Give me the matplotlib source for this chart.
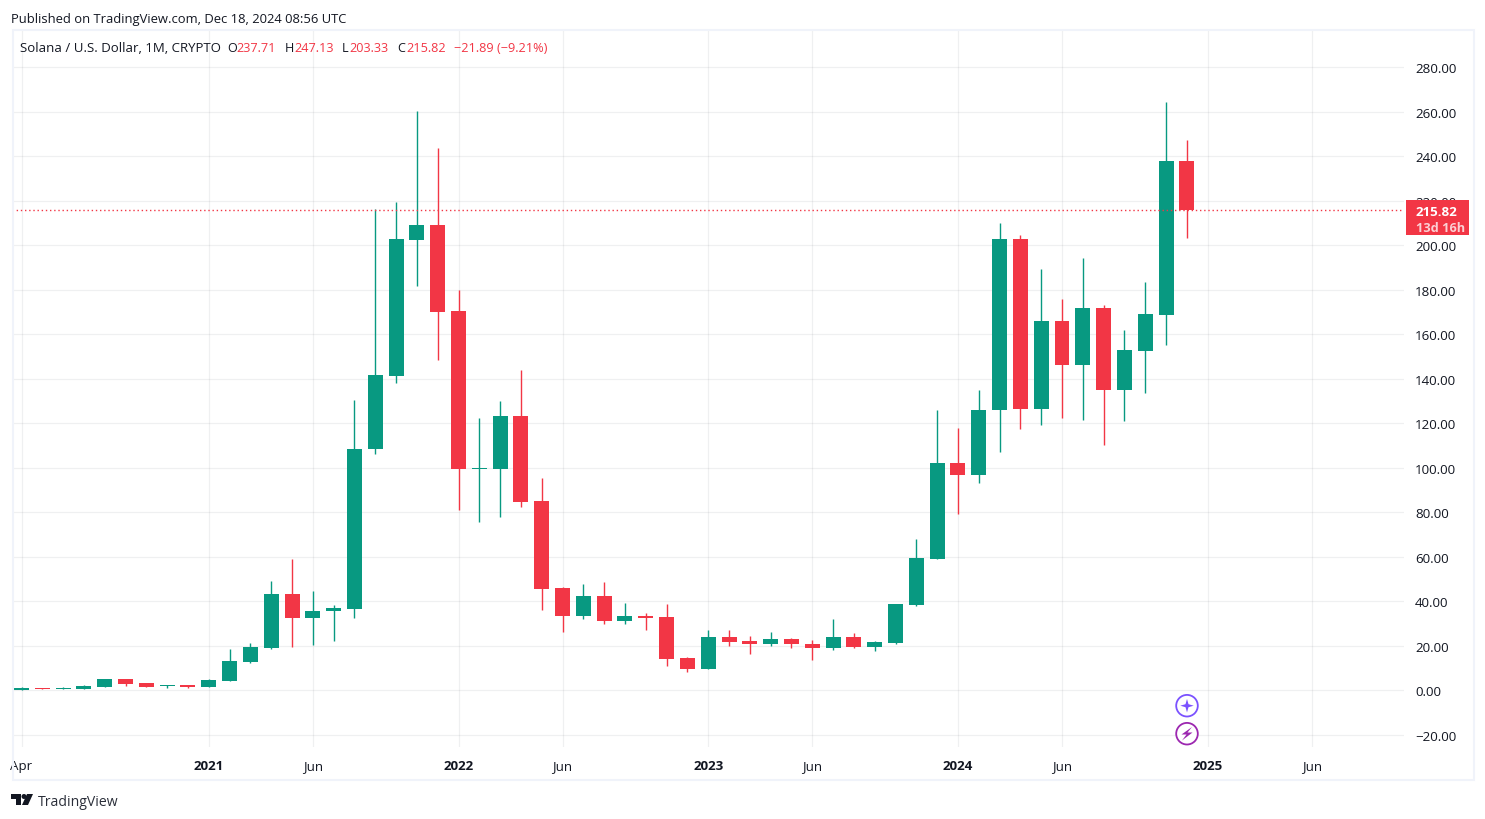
import matplotlib
matplotlib.use("Agg")
import matplotlib.pyplot as plt
from matplotlib.patches import Rectangle, Circle, Polygon
from matplotlib.transforms import Affine2D

plt.rcParams['font.family'] = ['Open Sans', 'DejaVu Sans']

opens = [0.2,0.9,0.6,0.5,1.4,5.0,3.1,1.8,2.2,1.4,4.0,12.6,19.2,43.3,32.5,35.4,36.5,108.2,141.4,202.5,209,170.2,99.5,99.4,123.2,85,
         45.8,33.3,42.2,31,33.3,32.8,14.4,9.6,23.9,22,20.7,23,21,18.9,23.9,19.4,21.1,38.4,59,102,96.5,125.7,202.8,126.4,
         165.9,146.1,171.7,134.9,152.6,168.6,237.71]
highs = [1.4,1.0,1.4,2.4,5.2,5.0,3.1,2.6,2.3,5.2,18.6,21.2,49.1,59,44.6,38.3,130.4,216,219.4,260.2,243.6,179.8,122.3,130,143.9,95.4,
         46.5,47.6,48.5,39,34.6,38.6,14.8,27,27,24.3,26,23.4,22.5,32,25.6,22,38.8,68,126,118,134.9,209.9,204.5,189.3,
         175.8,194.2,173,161.9,183.4,264.5,247.13]
lows = [0.1,0.7,0.5,0.5,1.4,2.0,1.4,1.0,1.0,1.4,4.0,12.3,18.6,19.4,20.3,22.1,32.5,106.2,138,181.6,148.4,81,75.6,77.9,82.4,36,
        26,32,30,30,27,11,8,9.6,19.8,16.2,19.8,18.9,13.5,18,19.2,17.5,21,38,59,79,93,107,117.4,119.2,
        122.3,121.4,110.2,121,133.6,155.1,203.33]
closes = [1.0,0.6,0.9,1.9,5.0,2.7,1.4,2.4,1.4,4.5,13.0,19.4,43.3,32.5,35.6,37,108.4,141.6,202.7,209,170,99.4,99.7,123.2,84.6,45.5,
          33.3,42.2,31,33.3,32.4,14,9.6,23.9,21.6,20.7,23,20.7,18.9,23.9,19.4,21.6,38.6,59.3,102,96.5,125.9,202.8,126.4,165.9,
          146.1,171.7,134.9,152.9,169,237.71,215.82]

y_ticks = [-20,0,20,40,60,80,100,120,140,160,180,200,220,240,260,280]
x_tick_pos = [0,9,14,21,26,33,38,45,50,57,62]
x_tick_labels = ['Apr','2021','Jun','2022','Jun','2023','Jun','2024','Jun','2025','Jun']
last_price = 215.82

GREEN = '#089981'
RED = '#F23645'
FRAME = '#F0F3FA'
TEXT = '#131722'

W, H = 1485, 820
fig = plt.figure(figsize=(W/100, H/100), dpi=100, facecolor='white')
px = Affine2D().scale(1/W, -1/H).translate(0, 1) + fig.transFigure

L, R, T, B = 12, 1404, 31, 748
ax = fig.add_axes([L/W, 1-B/H, (R-L)/W, (B-T)/H])
x0, dx = 21.5, 20.81
y0, dy = 691.3, 2.226
ax.set_xlim((L-x0)/dx, (R-x0)/dx)
ax.set_ylim((y0-B)/dy, (y0-T)/dy)
for s in ax.spines.values():
    s.set_visible(False)
ax.yaxis.tick_right()
ax.set_yticks(y_ticks)
ax.set_yticklabels([f"{v:.2f}".replace('-', '\u2212') for v in y_ticks], fontsize=9.6, color=TEXT)
ax.set_xticks(x_tick_pos)
ax.set_xticklabels(x_tick_labels, fontsize=9.6, color=TEXT)
for lab in ax.get_xticklabels():
    if lab.get_text().isdigit():
        lab.set_fontweight('bold')
ax.tick_params(axis='both', length=0)
ax.tick_params(axis='y', pad=8)
ax.tick_params(axis='x', pad=9)
ax.grid(True, color='#2A2E39', alpha=0.07, lw=0.9)
ax.set_axisbelow(True)

idx = list(range(len(opens)))
cols = [GREEN if c >= o else RED for o, c in zip(opens, closes)]
ax.vlines(idx, lows, highs, colors=cols, lw=1.0, zorder=2)
ax.bar(idx, [abs(c-o) if abs(c-o) > 0.45 else 0.45 for o, c in zip(opens, closes)],
       bottom=[min(o, c) for o, c in zip(opens, closes)], width=0.72, color=cols, lw=0, zorder=3)
ax.axhline(last_price, color=RED, lw=1, ls=(0, (1, 2)), zorder=4)

# outer frame
fig.add_artist(Rectangle((12.5, 30.5), 1461, 750, transform=px, fill=False, ec=FRAME, lw=1.5))

# price badge
fig.add_artist(Rectangle((1406, 201), 63, 35, transform=px, fc=RED, ec='none', zorder=5))
fig.text(1416/W, 1-212/H, f"{last_price:.2f}", color='white', fontsize=9.6, fontweight='bold', va='center', zorder=6)
fig.text(1416/W, 1-228.5/H, "13d 16h", color='#FBD0D4', fontsize=9.2, fontweight='bold', va='center', zorder=6)

# header
fig.text(11/W, 1-19/H, "Published on TradingView.com, Dec 18, 2024 08:56 UTC", fontsize=9.35, color=TEXT, va='center')
parts = [(20, "Solana / U.S. Dollar, 1M, CRYPTO", TEXT, 9.5), (227, "O", TEXT, 9.1), (236, "237.71", RED, 9.1),
         (285, "H", TEXT, 9.1), (294, "247.13", RED, 9.1), (342, "L", TEXT, 9.1), (349, "203.33", RED, 9.1),
         (397, "C", TEXT, 9.1), (406, "215.82", RED, 9.1), (454, "\u221221.89 (\u22129.21%)", RED, 9.15)]
for x, s, c, fs in parts:
    fig.text(x/W, 1-48.5/H, s, fontsize=fs, color=c, va='center')

# footer logo
fig.add_artist(Polygon([(11,795),(21,795),(21,806),(16,806),(16,800),(11,800)], transform=px, fc=TEXT, ec='none'))
fig.add_artist(Circle((24, 797.5), 2.5, transform=px, fc=TEXT, ec='none'))
fig.add_artist(Polygon([(27,795),(33,795),(28,806),(22,806)], transform=px, fc=TEXT, ec='none'))
fig.text(38/W, 1-802.5/H, "TradingView", fontsize=10.1, color='#2A2E39', va='center')

# event icons
fig.add_artist(Circle((1187, 706.7), 10.8, transform=px, fc='white', ec='#7B52FF', lw=1.3, zorder=5))
fig.add_artist(Polygon([(1187,700),(1188.5,705.2),(1193.7,706.7),(1188.5,708.2),(1187,713.4),(1185.5,708.2),(1180.3,706.7),(1185.5,705.2)],
                       transform=px, fc='#7B52FF', ec='none', zorder=6))
fig.add_artist(Circle((1187, 734.7), 10.8, transform=px, fc='white', ec='#9C27B0', lw=1.3, zorder=5))
fig.add_artist(Polygon([(1192,728),(1181.5,735.5),(1186.5,735.5),(1182,741.5),(1192.5,733.5),(1187.5,733.5)],
                       transform=px, fc='#9C27B0', ec='none', zorder=6))

fig.savefig('out.png', dpi=100)
